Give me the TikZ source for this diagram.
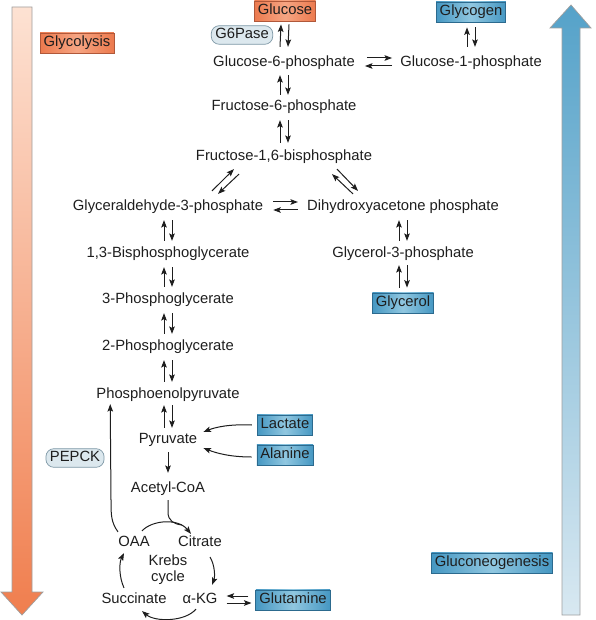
\documentclass[tikz,border=0pt]{standalone}
\usepackage{fontspec}
\setmainfont{Liberation Sans}
\usetikzlibrary{arrows.meta,calc}
\definecolor{orEdge}{HTML}{EC7A4E}
\definecolor{orMid}{HTML}{F6A583}
\definecolor{orLine}{HTML}{B0583A}
\definecolor{blEdge}{HTML}{4597C2}
\definecolor{blMid}{HTML}{90C7E0}
\definecolor{blLine}{HTML}{2C6A8E}
\definecolor{enzFill}{HTML}{DCE8EE}
\definecolor{enzLine}{HTML}{7E98A6}
\definecolor{orTop}{HTML}{FDE2D3}
\definecolor{orBot}{HTML}{F07E4E}
\definecolor{blTop}{HTML}{55A2C9}
\definecolor{blBot}{HTML}{D8E8F1}
\definecolor{ink}{HTML}{1E1E1E}
\newcommand\updn[4]{%
  \draw[arr] ($(#2.north)+(-4,-#4)$) -- ($(#1.south)+(-4,#3)$);
  \draw[arr] ($(#1.south)+(4,#3)$) -- ($(#2.north)+(4,-#4)$);}
\begin{document}
\begin{tikzpicture}[x=1pt,y=-1pt,
  every node/.style={font=\fontsize{14.8}{16}\selectfont, text=ink},
  met/.style={inner sep=1pt, text height=10.6pt, text depth=3.2pt},
  obox/.style={met, inner xsep=3.5pt, inner ysep=3.2pt, left color=orEdge, right color=orEdge, middle color=orMid, draw=orLine, line width=0.6pt},
  bbox/.style={met, inner xsep=3.5pt, inner ysep=3.2pt, left color=blEdge, right color=blEdge, middle color=blMid, draw=blLine, line width=0.6pt},
  enz/.style={met, inner xsep=4pt, inner ysep=2.4pt, fill=enzFill, draw=enzLine, line width=0.7pt, rounded corners=8pt},
  arr/.style={draw=ink, -{Stealth[length=7.5pt,width=5.6pt,inset=1.5pt]}, line width=1pt},
  big/.style={draw=gray!75, line width=0.7pt}]
\useasboundingbox (0,0) rectangle (595,620);

% big arrows
\shade[big, top color=orTop, bottom color=orBot]
  (12,7) -- (32,7) -- (32,592) -- (43,592) -- (22,615) -- (1,592) -- (12,592) -- cycle;
\shade[big, top color=blTop, bottom color=blBot]
  (562,615) -- (580,615) -- (580,28) -- (591,28) -- (571,5) -- (550,28) -- (562,28) -- cycle;

% labels
\node[obox] (glycolysis) at (77,43) {Glycolysis};
\node[bbox] (gng) at (492,563) {Gluconeogenesis};

% nodes
\node[obox] (glc) at (285,11) {Glucose};
\node[bbox] (gly) at (471,12) {Glycogen};
\node[enz] (g6pase) at (242,35) {G6Pase};
\node[met] (g6p) at (284,63) {Glucose-6-phosphate};
\node[met] (g1p) at (471,63) {Glucose-1-phosphate};
\node[met] (f6p) at (284,107) {Fructose-6-phosphate};
\node[met] (f16) at (284,157) {Fructose-1,6-bisphosphate};
\node[met] (g3p) at (168,207) {Glyceraldehyde-3-phosphate};
\node[met] (dhap) at (403,207) {Dihydroxyacetone phosphate};
\node[met] (bpg) at (168,254) {1,3-Bisphosphoglycerate};
\node[met] (g3pl) at (403,254) {Glycerol-3-phosphate};
\node[met] (pg3) at (168,300) {3-Phosphoglycerate};
\node[bbox] (glyc) at (403,303) {Glycerol};
\node[met] (pg2) at (168,347) {2-Phosphoglycerate};
\node[met] (pep) at (168,395) {Phosphoenolpyruvate};
\node[met] (pyr) at (168,440) {Pyruvate};
\node[bbox] (lac) at (285,425) {Lactate};
\node[bbox] (ala) at (285,455) {Alanine};
\node[enz] (pepck) at (75,458) {PEPCK};
\node[met] (acoa) at (168,489) {Acetyl-CoA};
\node[met] (oaa) at (134,543) {OAA};
\node[met] (cit) at (200,543) {Citrate};
\node[align=center, font=\fontsize{14.8}{16}\selectfont] (krebs) at (168,570) {Krebs\\cycle};
\node[met] (succ) at (134,600) {Succinate};
\node[met] (akg) at (200,600) {α-KG};
\node[bbox] (gln) at (293,600) {Glutamine};

% vertical reversible pairs
\updn{glc}{g6p}{3}{8}
\updn{gly}{g1p}{5}{8}
\updn{g6p}{f6p}{4}{4}
\updn{f6p}{f16}{5}{6}
\updn{g3p}{bpg}{5}{5}
\updn{bpg}{pg3}{5}{5}
\updn{pg3}{pg2}{5}{5}
\updn{pg2}{pep}{5}{5}
\updn{dhap}{g3pl}{5}{5}
\updn{g3pl}{glyc}{3}{5}
\updn{pep}{pyr}{2}{4}

% horizontal reversible pairs
\draw[arr] ($(g6p.east)+(11,-5)$) -- ($(g1p.west)+(-7,-5)$);
\draw[arr] ($(g1p.west)+(-7,3)$) -- ($(g6p.east)+(9,3)$);
\draw[arr] ($(g3p.east)+(9,-5)$) -- ($(dhap.west)+(-8,-5)$);
\draw[arr] ($(dhap.west)+(-8,3)$) -- ($(g3p.east)+(9,3)$);
\draw[arr] ($(gln.west)+(-7,-4)$) -- ($(akg.east)+(8,-4)$);
\draw[arr] ($(akg.east)+(8,3)$) -- ($(gln.west)+(-4,3)$);

% diagonal pairs
\draw[arr] ($(g3p.north)+(44,-8)$) -- ($(f16.south)+(-50,4)$);
\draw[arr] ($(f16.south)+(-45,9)$) -- ($(g3p.north)+(50,-5)$);
\draw[arr] ($(dhap.north)+(-50,-5)$) -- ($(f16.south)+(48,9)$);
\draw[arr] ($(f16.south)+(53,4)$) -- ($(dhap.north)+(-45,-8)$);

% lactate / alanine to pyruvate
\draw[arr] ($(lac.west)+(-5,0)$) .. controls (230,424) and (216,427) .. ($(pyr.east)+(5,-8)$);
\draw[arr] ($(ala.west)+(-5,2)$) .. controls (230,457) and (216,453) .. ($(pyr.east)+(5,8)$);

% pyruvate to acetyl-CoA
\draw[arr] ($(pyr.south)+(0,4)$) -- ($(acoa.north)+(0,-8)$);

% acetyl-CoA into citrate
\draw[draw=ink, line width=1pt] ($(acoa.south)+(0,3)$) -- (168,512) .. controls (168,521) and (174,524) .. (182,525);
% Krebs cycle
\draw[arr] ($(oaa.north)+(8,-4)$) .. controls (152,520) and (178,518) .. ($(cit.north)+(-9,-1)$);
\draw[arr] ($(cit.south)+(10,6)$) .. controls (215,565) and (215,577) .. ($(akg.north)+(12,-7)$);
\draw[arr] ($(akg.south)+(-4,1)$) .. controls (185,622) and (155,622) .. ($(succ.south)+(8,3)$);
\draw[arr] ($(succ.north)+(-10,-4)$) .. controls (119,577) and (119,563) .. ($(oaa.south)+(-10,2)$);

% OAA to PEP
\draw[arr] ($(oaa.north)+(-16,-3)$) .. controls (111,522) and (111,515) .. (111,500) -- ($(pep.south west)+(15,1)$);
\end{tikzpicture}
\end{document}
